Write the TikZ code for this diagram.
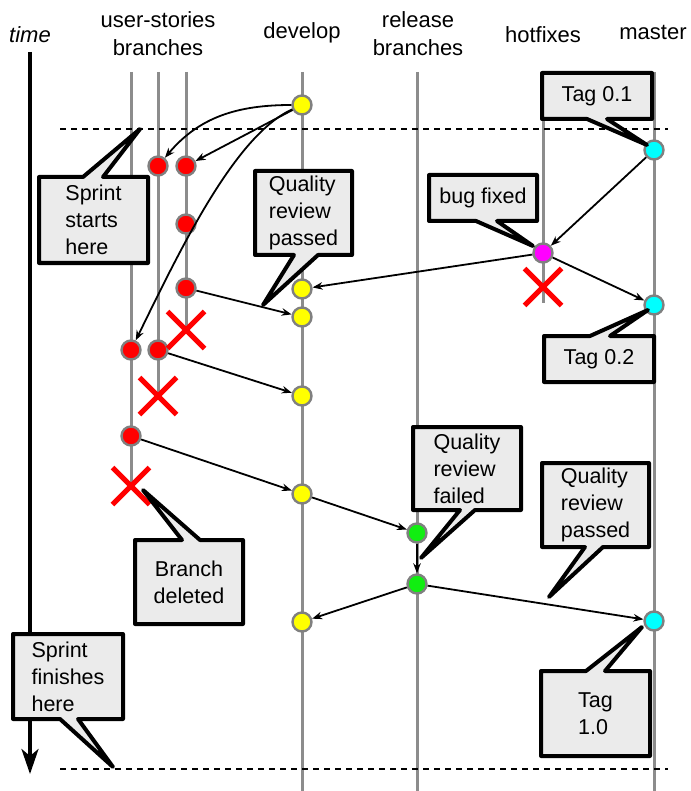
\documentclass[tikz,border=0pt]{standalone}
\usepackage{fontspec}
\setmainfont{Liberation Sans}
\usetikzlibrary{arrows.meta,shapes.misc}
\definecolor{lanegray}{HTML}{8C8C8C}
\definecolor{nodegray}{HTML}{808080}
\definecolor{callfill}{HTML}{EBEBEB}
\definecolor{cgreen}{HTML}{11EE11}
\definecolor{cred}{HTML}{FF0000}
\definecolor{cyellow}{HTML}{FFFF00}
\definecolor{ccyan}{HTML}{00FFFF}
\definecolor{cmagenta}{HTML}{FF00FF}
\tikzset{
  lane/.style={draw=lanegray, line width=3pt},
  commit/.style={circle, draw=nodegray, line width=2.4pt, minimum size=19pt, inner sep=0pt},
  arr/.style={-{Stealth[length=10pt,width=7.5pt]}, line width=1.8pt},
  call/.style={draw=black, line width=4pt, fill=callfill, line join=round},
  calltext/.style={align=left, font=\fontsize{21.5}{27}\selectfont, inner sep=0pt},
  crossmark/.style={cross out, draw=cred, line width=5pt, minimum size=32pt, inner sep=0pt},
  hdr/.style={font=\fontsize{22}{28}\selectfont, align=center, inner sep=0pt},
  sprintline/.style={dash pattern=on 6pt off 5pt, line width=1.5pt}
}
\begin{document}
\begin{tikzpicture}[x=1pt,y=-1pt]
\useasboundingbox (0,0) rectangle (690,791);
% headers
\node[hdr] (htime) at (30,35) {\itshape time};
\node[hdr] (hus) at (158,34) {user-stories\\branches};
\node[hdr] (hdev) at (302,33) {develop};
\node[hdr] (hrel) at (418,34) {release\\branches};
\node[hdr] (hhot) at (543,35) {hotfixes};
\node[hdr] (hmas) at (653,33) {master};
% lanes
\draw[lane] (131,72) -- (131,485);
\draw[lane] (158,72) -- (158,396);
\draw[lane] (186,72) -- (186,330);
\draw[lane] (302,72) -- (302,791);
\draw[lane] (417,72) -- (417,791);
\draw[lane] (543,72) -- (543,303);
\draw[lane] (654,72) -- (654,791);
% sprint boundaries
\coordinate (s1a) at (60,129); \coordinate (s1b) at (668,129);
\coordinate (s2a) at (60,769); \coordinate (s2b) at (668,769);
\draw[sprintline] (s1a) -- (s1b);
\draw[sprintline] (s2a) -- (s2b);
% time arrow
\coordinate (t0) at (30,52); \coordinate (t1) at (30,774);
\draw[line width=3.5pt, -{Stealth[length=25pt,width=17pt,inset=7pt]}] (t0) -- (t1);
% commits
\node[commit, fill=cyellow] (d1) at (302,105) {};
\node[commit, fill=cred] (u2a) at (158,166) {};
\node[commit, fill=cred] (u3a) at (186,166) {};
\node[commit, fill=cred] (u3b) at (186,224) {};
\node[commit, fill=cred] (u3c) at (186,288) {};
\node[commit, fill=cred] (u1a) at (131,350) {};
\node[commit, fill=cred] (u2b) at (158,350) {};
\node[commit, fill=cred] (u1b) at (131,436) {};
\node[commit, fill=cyellow] (d2) at (302,289) {};
\node[commit, fill=cyellow] (d3) at (302,317) {};
\node[commit, fill=cyellow] (d4) at (302,396) {};
\node[commit, fill=cyellow] (d5) at (302,494) {};
\node[commit, fill=cyellow] (d6) at (302,622) {};
\node[commit, fill=cgreen] (r1) at (417,533) {};
\node[commit, fill=cgreen] (r2) at (417,584) {};
\node[commit, fill=cmagenta] (h1) at (543,253) {};
\node[commit, fill=ccyan] (m1) at (654,150) {};
\node[commit, fill=ccyan] (m2) at (654,305) {};
\node[commit, fill=ccyan] (m3) at (654,621) {};
% crosses
\node[crossmark] (x1) at (186,330) {};
\node[crossmark] (x2) at (158,396) {};
\node[crossmark] (x3) at (131,486) {};
\node[crossmark] (x4) at (543,287) {};
% connectors
\draw[arr] (d1) to[out=180,in=50] (u2a);
\draw[arr] (d1) -- (u3a);
\draw[arr] (d1) .. controls (235,135) and (180,250) .. (u1a);
\draw[arr] (u3c) -- (d3);
\draw[arr] (u2b) -- (d4);
\draw[arr] (u1b) -- (d5);
\draw[arr] (d5) -- (r1);
\draw[arr] (r1) -- (r2);
\draw[arr] (r2) -- (d6);
\draw[arr] (r2) -- (m3);
\draw[arr] (m1) -- (h1);
\draw[arr] (h1) -- (d2);
\draw[arr] (h1) -- (m2);
% callouts
\draw[call] (39,177) -- (83,177) -- (140,129) -- (103,177) -- (148,177) -- (148,263) -- (39,263) -- cycle;
\node[calltext] (c1) at (93.5,220) {Sprint\\starts\\here};
\draw[call] (255,171) -- (352,171) -- (352,255) -- (318,255) -- (263,305) -- (294,255) -- (255,255) -- cycle;
\node[calltext] (c2) at (303.5,213) {Quality\\review\\passed};
\draw[call] (542,73) -- (652,73) -- (652,119) -- (607,119) -- (647,145) -- (587,119) -- (542,119) -- cycle;
\node[calltext] (c3) at (597,96) {Tag 0.1};
\draw[call] (429,175) -- (537,175) -- (537,221) -- (497,221) -- (533,246) -- (476,221) -- (429,221) -- cycle;
\node[calltext] (c4) at (483,198) {bug fixed};
\draw[call] (544,336) -- (590,336) -- (648,310) -- (610,336) -- (654,336) -- (654,382) -- (544,382) -- cycle;
\node[calltext] (c5) at (599,359) {Tag 0.2};
\draw[call] (135,540) -- (182,540) -- (143,490) -- (200,540) -- (243,540) -- (243,624) -- (135,624) -- cycle;
\node[calltext, align=center] (c6) at (189,582) {Branch\\deleted};
\draw[call] (413,427) -- (521,427) -- (521,510) -- (475,510) -- (421,558) -- (460,510) -- (413,510) -- cycle;
\node[calltext] (c7) at (467,468.5) {Quality\\review\\failed};
\draw[call] (542,463) -- (649,463) -- (649,547) -- (603,547) -- (549,597) -- (585,547) -- (542,547) -- cycle;
\node[calltext] (c8) at (595.5,505) {Quality\\review\\passed};
\draw[call] (13,634) -- (123,634) -- (123,719) -- (78,719) -- (113,767) -- (60,719) -- (13,719) -- cycle;
\node[calltext] (c9) at (68,676.5) {Sprint\\finishes\\here};
\draw[call] (541,671) -- (586,671) -- (642,627) -- (605,671) -- (650,671) -- (650,756) -- (541,756) -- cycle;
\node[calltext] (c10) at (595.5,713.5) {Tag\\1.0};
\end{tikzpicture}
\end{document}
